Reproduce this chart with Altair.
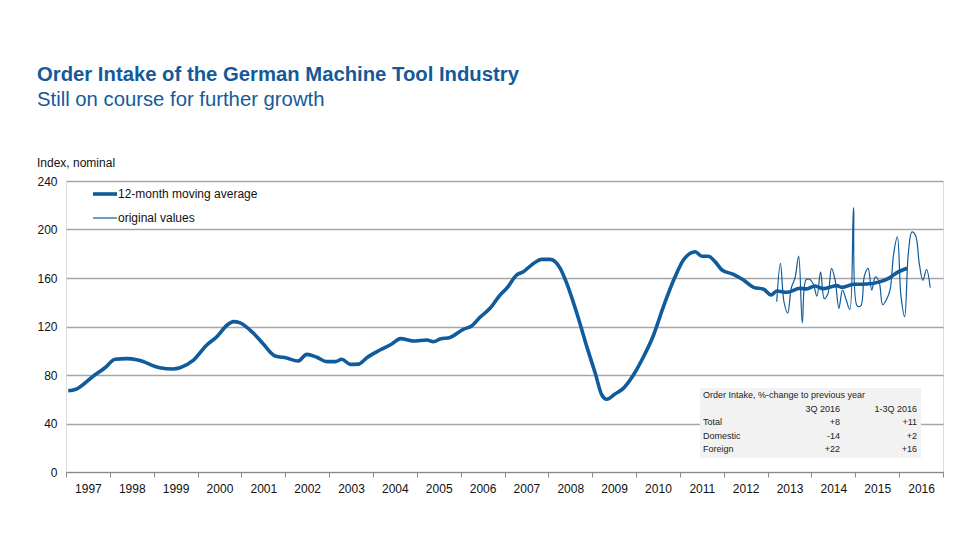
import altair as alt
import pandas as pd

# 12-month moving average (decimal year, index value)
ma_year = [1997.05, 1997.21, 1997.62, 1997.89, 1998.12, 1998.38, 1998.64, 1999.14, 1999.44, 1999.60,
           1999.90, 2000.21, 2000.44, 2000.67, 2000.82, 2000.97, 2001.27, 2001.49, 2001.77, 2002.03,
           2002.29, 2002.49, 2002.72, 2002.95, 2003.14, 2003.29, 2003.48, 2003.67, 2003.86, 2004.16,
           2004.43, 2004.63, 2004.92, 2005.23, 2005.38, 2005.53, 2005.76, 2006.06, 2006.25, 2006.44,
           2006.67, 2006.90, 2007.05, 2007.28, 2007.43, 2007.66, 2007.85, 2008.04, 2008.27, 2008.42,
           2008.65, 2008.88, 2009.07, 2009.22, 2009.33, 2009.52, 2009.71, 2009.94, 2010.17, 2010.40,
           2010.62, 2010.89, 2011.08, 2011.35, 2011.50, 2011.65, 2011.80, 2011.96, 2012.22, 2012.45,
           2012.68, 2012.91, 2013.08, 2013.21, 2013.44, 2013.74, 2013.89, 2014.08, 2014.27, 2014.58,
           2014.69, 2014.96, 2015.26, 2015.57, 2015.76, 2015.95, 2016.18]
ma_value = [67, 68, 79, 86, 93, 93.5, 92.4, 86, 85, 86,
            92, 104.7, 111.6, 121, 124, 123, 114.6, 106, 95.7, 94,
            91.5, 97, 94.6, 91, 91, 93, 88.8, 89, 94.3, 100.6,
            105.6, 110, 108, 108.9, 107.5, 109.7, 111, 117.7, 120.4, 127.6,
            135, 146, 151.5, 162.5, 165.2, 172, 175.4, 175.4, 168, 155.6,
            130.9, 103, 81.4, 63.5, 60, 64.3, 69, 80, 95, 113,
            136, 161, 174.8, 181.7, 178, 178, 173.5, 166.6, 163, 158.3,
            152.3, 150.7, 146, 149.3, 148.2, 151.5, 151, 153.4, 151.2, 153.7,
            152.3, 154.8, 155, 157, 159.7, 164.4, 168]

# original monthly values, March 2013 - September 2016
orig_year = [2013] * 10 + [2014] * 12 + [2015] * 12 + [2016] * 9
orig_month = list(range(3, 13)) + list(range(1, 13)) + list(range(1, 13)) + list(range(1, 10))
orig_value = [140.5, 172, 140, 131, 152, 160, 178, 123, 158.5, 159,
              155, 145, 165, 143, 147, 168, 158, 135, 150, 142, 134, 218,
              137, 137, 162, 168, 150, 161, 157, 138, 142, 150, 180, 194,
              145, 128, 180, 198, 195, 172, 158, 167, 152]

years = list(range(1997, 2018))
y_ticks = [0, 40, 80, 120, 160, 200, 240]

# inset table
table_title = "Order Intake, %-change to previous year"
table_cols = ["3Q 2016", "1-3Q 2016"]
table_rows = ["Total", "Domestic", "Foreign"]
table_q3 = ["+8", "-14", "+22"]
table_ytd = ["+11", "+2", "+16"]

BLUE = "#0f5b9b"
FONT = "Liberation Sans"

ma_df = pd.DataFrame({"year": ma_year, "value": ma_value})
orig_df = pd.DataFrame({
    "year": [y + (m - 0.5) / 12 for y, m in zip(orig_year, orig_month)],
    "value": orig_value,
})

xscale = alt.Scale(domain=[1997, 2017], nice=False, zero=False)
yscale = alt.Scale(domain=[0, 240], nice=False)

x_axis = alt.Axis(values=years, format="d", labelExpr="datum.value < 2017 ? datum.value : ''",
                  labelOffset=21.9, tickSize=5, tickColor="#888888", domainColor="#888888",
                  domainWidth=1.2, labelFontSize=12, labelFont=FONT, labelColor="#111111",
                  labelPadding=6, grid=False, title=None, labelFlush=False)
y_axis = alt.Axis(values=y_ticks, grid=True, gridColor="#a6a6a6", gridWidth=1.4, domain=False,
                  ticks=False, labelFontSize=12, labelFont=FONT, labelColor="#111111",
                  labelPadding=9, title=None)

orig_line = alt.Chart(orig_df).mark_line(color=BLUE, strokeWidth=1.2, interpolate="catmull-rom").encode(
    x=alt.X("year:Q", scale=xscale, axis=None),
    y=alt.Y("value:Q", scale=yscale, axis=None),
)
ma_line = alt.Chart(ma_df).mark_line(color=BLUE, strokeWidth=3.6, interpolate="monotone").encode(
    x=alt.X("year:Q", scale=xscale, axis=x_axis),
    y=alt.Y("value:Q", scale=yscale, axis=y_axis),
)

# table box
box = alt.Chart(pd.DataFrame({"a": [0]})).mark_rect(color="#f2f2f2").encode(
    x=alt.value(634), x2=alt.value(855), y=alt.value(207), y2=alt.value(277)
)

# table cells: ri = row index (0 title, 1 header, 2.. data rows), ci = column index (1, 2)
left_rows = [table_title] + [""] + table_rows
left_df = pd.DataFrame({"ri": list(range(len(left_rows))), "text": left_rows})
right_cells = []
for ci, name in zip([1, 2], table_cols):
    right_cells.append({"ri": 1, "ci": ci, "text": name})
for i, (a, b) in enumerate(zip(table_q3, table_ytd)):
    right_cells.append({"ri": i + 2, "ci": 1, "text": a})
    right_cells.append({"ri": i + 2, "ci": 2, "text": b})
right_df = pd.DataFrame(right_cells)

ty = alt.Scale(domain=[0, 4], range=[214, 268], nice=False, zero=False)
tx = alt.Scale(domain=[1, 2], range=[774, 851], nice=False, zero=False)

left_text = alt.Chart(left_df).mark_text(
    align="left", baseline="middle", fontSize=9, font=FONT, color="#222222"
).encode(
    x=alt.value(637),
    y=alt.Y("ri:Q", scale=ty, axis=None),
    text="text:N",
)
right_text = alt.Chart(right_df).mark_text(
    align="right", baseline="middle", fontSize=9, font=FONT, color="#222222"
).encode(
    x=alt.X("ci:Q", scale=tx, axis=None),
    y=alt.Y("ri:Q", scale=ty, axis=None),
    text="text:N",
)

# legend
leg_names = ["12-month moving average", "original values"]
leg_ma = alt.Chart(pd.DataFrame({"a": [0]})).mark_rule(color=BLUE, strokeWidth=3.6).encode(
    x=alt.value(27), x2=alt.value(51), y=alt.value(13)
)
leg_or = alt.Chart(pd.DataFrame({"a": [0]})).mark_rule(color=BLUE, strokeWidth=1.2).encode(
    x=alt.value(27), x2=alt.value(51), y=alt.value(37)
)
leg_t1 = alt.Chart(pd.DataFrame({"t": [leg_names[0]]})).mark_text(
    align="left", baseline="middle", fontSize=12, font=FONT, color="#111111"
).encode(x=alt.value(52), y=alt.value(13), text="t:N")
leg_t2 = alt.Chart(pd.DataFrame({"t": [leg_names[1]]})).mark_text(
    align="left", baseline="middle", fontSize=12, font=FONT, color="#111111"
).encode(x=alt.value(52), y=alt.value(37), text="t:N")

# titles
title_t = alt.Chart(pd.DataFrame({"t": ["Order Intake of the German Machine Tool Industry"]})).mark_text(
    align="left", baseline="alphabetic", fontSize=20.3, fontWeight="bold", font=FONT, color="#155a98"
).encode(x=alt.value(-29), y=alt.value(-100), text="t:N")
sub_t = alt.Chart(pd.DataFrame({"t": ["Still on course for further growth"]})).mark_text(
    align="left", baseline="alphabetic", fontSize=20.3, font=FONT, color="#155a98"
).encode(x=alt.value(-29), y=alt.value(-75), text="t:N")
ylab_t = alt.Chart(pd.DataFrame({"t": ["Index, nominal"]})).mark_text(
    align="left", baseline="middle", fontSize=12, font=FONT, color="#111111"
).encode(x=alt.value(-29), y=alt.value(-18), text="t:N")

chart = alt.layer(
    orig_line, ma_line, box, left_text, right_text,
    leg_ma, leg_or, leg_t1, leg_t2, title_t, sub_t, ylab_t
).resolve_scale(x="independent", y="independent").properties(
    width=877, height=291,
    autosize=alt.AutoSizeParams(type="none"),
    padding={"left": 58, "top": 173, "right": 20, "bottom": 50},
).configure_view(stroke=None).configure(background="white")

chart.save("out.html", embed_options={"renderer": "svg", "actions": False})
